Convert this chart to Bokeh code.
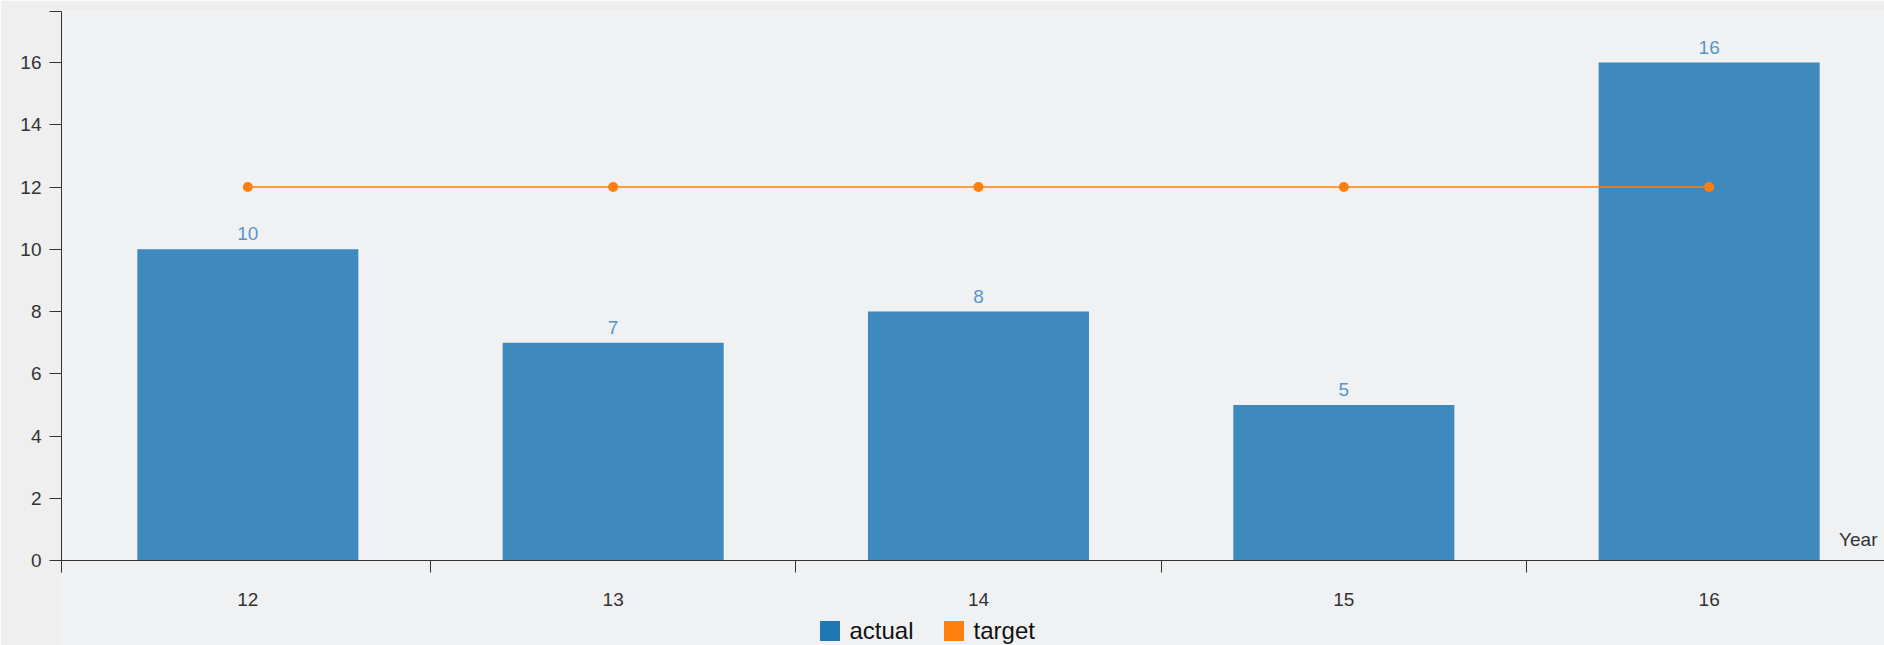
from bokeh.plotting import figure
from bokeh.models import Range1d, FixedTicker, Legend, LegendItem, ColumnDataSource
from bokeh.core.properties import value
from bokeh.embed import file_html
from bokeh.resources import INLINE

# --- data -------------------------------------------------------------
years = ["12", "13", "14", "15", "16"]
actual = [10, 7, 8, 5, 16]
target = [12, 12, 12, 12, 12]
y_ticks = [0, 2, 4, 6, 8, 10, 12, 14, 16]

BLUE = "#1f77b4"
ORANGE = "#ff7f0e"
AXIS = "#333333"
FONT = "Liberation Sans"

xs = list(range(len(years)))
x_start, x_end = -0.51, len(years) - 0.52
# the frame runs to the bottom of the page; the value axis sits at y = 0
y_start, y_end = -2.731, 17.64

src = ColumnDataSource(dict(x=xs, year=years, actual=actual, target=target,
                            label=[str(v) for v in actual]))

p = figure(width=1884, height=645, output_backend="svg", toolbar_location=None,
           x_range=Range1d(x_start, x_end), y_range=Range1d(y_start, y_end),
           min_border_left=61, min_border_right=0, min_border_top=11,
           min_border_bottom=0)
p.background_fill_color = "#eff1f2"
p.border_fill_color = "#efefef"
p.outline_line_color = None
p.xgrid.visible = False
p.ygrid.visible = False

# bars for the actual values
p.vbar(x="x", top="actual", width=0.605, source=src,
       fill_color=BLUE, fill_alpha=0.85, line_color=None)

# value labels above the bars
p.text(x="x", y="actual", text="label", source=src,
       text_align="center", text_baseline="bottom", y_offset=-9,
       text_font=value(FONT), text_font_size="19px", text_color="#5796c9")

# target line with markers
p.line(x="x", y="target", source=src, line_color=ORANGE, line_width=1.5)
p.scatter(x="x", y="target", source=src, size=10,
          fill_color=ORANGE, line_color=None)

# x axis pinned at zero: labels at band centres, ticks on band boundaries
xa = p.xaxis[0]
xa.fixed_location = 0
xa.ticker = FixedTicker(ticks=xs,
                        minor_ticks=[x_start + 0.001] + [i + 0.5 for i in xs[:-1]])
xa.major_label_overrides = {i: y for i, y in zip(xs, years)}
xa.major_tick_out = 0
xa.major_tick_in = 0
xa.minor_tick_out = 12
xa.minor_tick_in = 0
xa.minor_tick_line_color = AXIS
xa.major_label_standoff = 20
xa.axis_line_color = AXIS
xa.major_label_text_font = FONT
xa.major_label_text_font_size = "19px"
xa.major_label_text_color = AXIS

# y axis from just below zero up to an outer tick at the top end
ya = p.yaxis[0]
ya.bounds = (-12 / 31.125, y_end)
ya.ticker = FixedTicker(ticks=y_ticks, minor_ticks=[y_end - 0.001])
ya.major_tick_out = 12
ya.major_tick_in = 0
ya.minor_tick_out = 12
ya.minor_tick_in = 0
ya.minor_tick_line_color = AXIS
ya.major_tick_line_color = AXIS
ya.major_label_standoff = 8
ya.axis_line_color = AXIS
ya.major_label_text_font = FONT
ya.major_label_text_font_size = "19px"
ya.major_label_text_color = AXIS

# axis title at the right end of the x axis
p.text(x=[x_end], y=[0], text=["Year"], text_align="right",
       text_baseline="bottom", x_offset=-7, y_offset=-11,
       text_font=value(FONT), text_font_size="19px", text_color=AXIS)

# legend swatches: zero-width bars that only show up as legend squares
r_act = p.vbar(x="x", top="actual", source=src, width=0,
               fill_color=BLUE, line_color=None)
r_tgt = p.vbar(x="x", top="target", source=src, width=0,
               fill_color=ORANGE, line_color=None)
legend = Legend(items=[LegendItem(label="actual", renderers=[r_act]),
                       LegendItem(label="target", renderers=[r_tgt])],
                orientation="horizontal", location=(755.5, 0.5),
                glyph_width=25, glyph_height=25, label_standoff=8,
                spacing=27, padding=0, margin=0,
                border_line_color=None, background_fill_alpha=0,
                label_text_font=FONT, label_text_font_size="24px",
                label_text_color="#111111", label_height=25)
p.add_layout(legend, "center")

open("out.html", "w").write(file_html(p, INLINE))
